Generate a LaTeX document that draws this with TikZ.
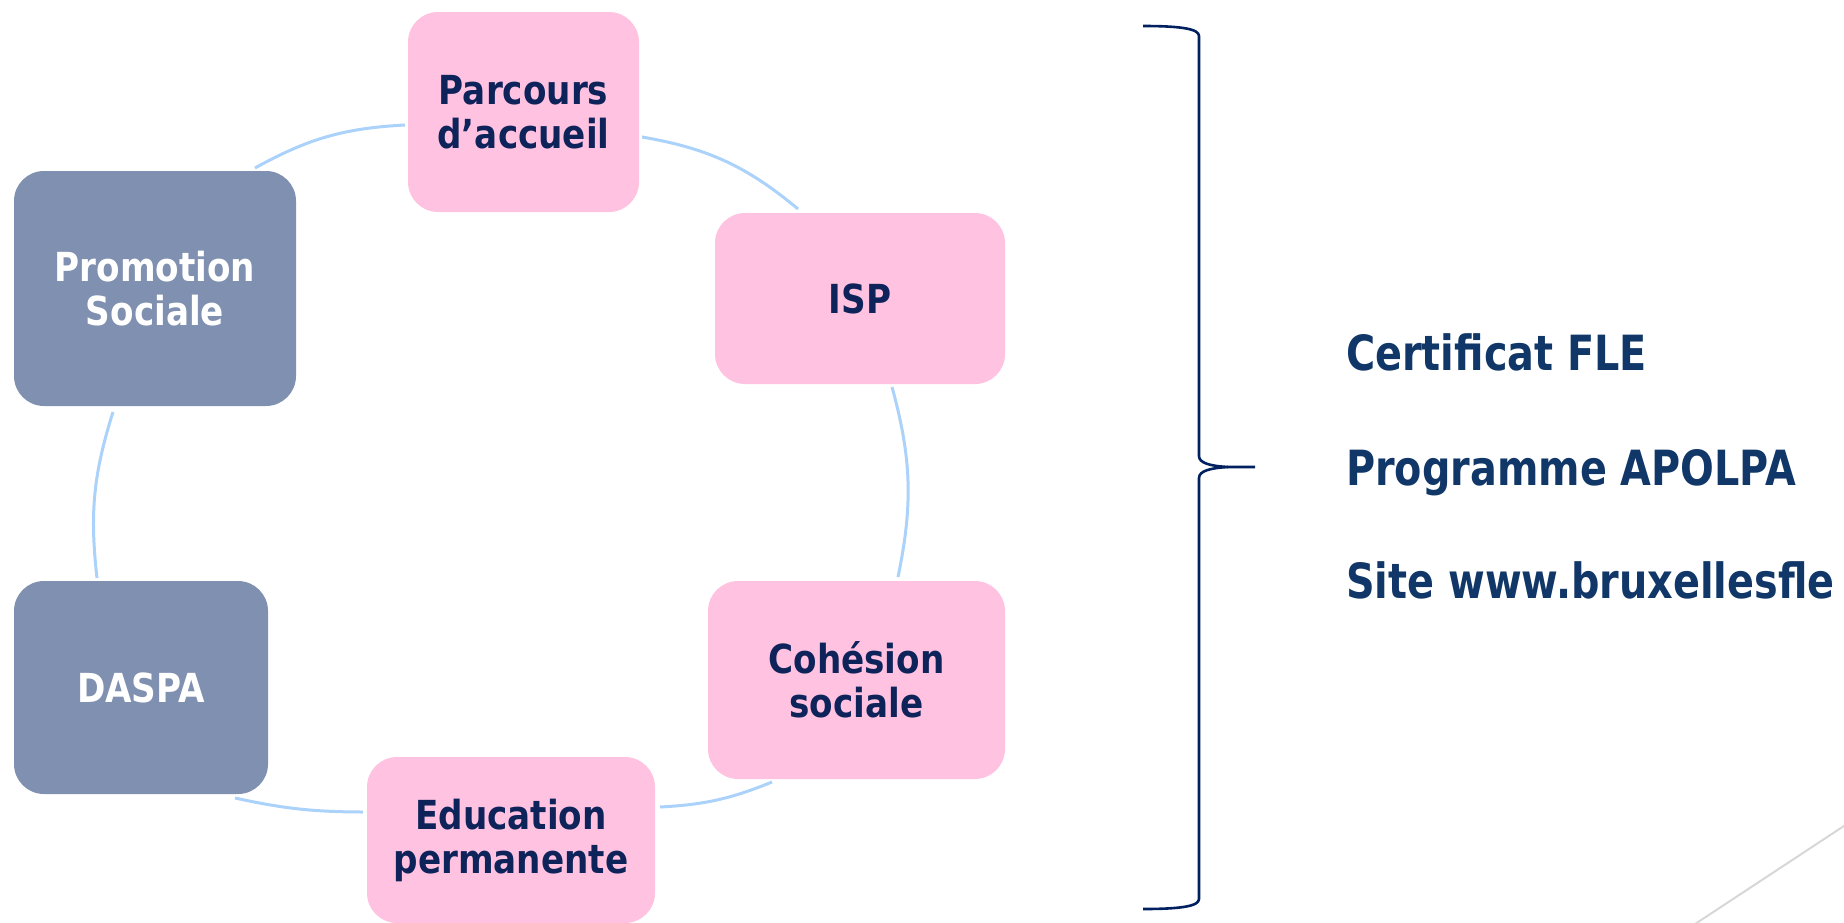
\documentclass[tikz,border=0pt]{standalone}
\usepackage{fontspec}
\newfontfamily\tah[FakeStretch=0.855]{DejaVu Sans}
\newfontfamily\tahr[FakeStretch=0.82]{DejaVu Sans}
\definecolor{pinkbox}{RGB}{255,195,225}
\definecolor{graybox}{RGB}{128,144,176}
\definecolor{boxtext}{RGB}{13,35,90}
\definecolor{righttext}{RGB}{16,55,104}
\definecolor{bracecol}{RGB}{0,32,96}
\definecolor{arccol}{RGB}{170,210,250}
\definecolor{diagcol}{RGB}{215,215,215}
\begin{document}
\begin{tikzpicture}[x=1pt,y=-1pt,
  box/.style={rounded corners=30pt, inner sep=0pt, align=center,
    font=\tah\bfseries\fontsize{40}{44}\selectfont},
  pinkstyle/.style={box, fill=pinkbox, text=boxtext},
  graystyle/.style={box, fill=graybox, text=white},
  arcline/.style={draw=arccol, line width=3pt},
  rtext/.style={anchor=base west, inner sep=0pt, text=righttext,
    font=\tahr\bfseries\fontsize{48.5}{56}\selectfont},
  bracestyle/.style={draw=bracecol, line width=2.6pt, line join=round},
  diagline/.style={draw=diagcol, line width=2pt}]
\useasboundingbox (0,0) rectangle (1844,922);
\clip (0,0) rectangle (1844,922);

% boxes
\node[pinkstyle, minimum width=231pt, minimum height=200pt] (parc) at (523.5,112) {Parcours\\d’accueil};
\node[pinkstyle, minimum width=290pt, minimum height=171pt] (isp) at (860,298.5) {ISP};
\node[graystyle, minimum width=282pt, minimum height=235pt] (prom) at (155,288.5) {Promotion\\Sociale};
\node[graystyle, minimum width=254pt, minimum height=213pt] (daspa) at (141,687.5) {DASPA};
\node[pinkstyle, minimum width=297pt, minimum height=198pt] (coh) at (856.5,680) {Cohésion\\sociale};
\node[pinkstyle, minimum width=288pt, minimum height=166pt] (edu) at (511,840) {Education\\permanente};

% arc end points
\coordinate (a1s) at (255,168);
\coordinate (a1e) at (405,125);
\coordinate (a2s) at (642,137);
\coordinate (a2e) at (798,209);
\coordinate (a3s) at (892,387);
\coordinate (a3e) at (898,577);
\coordinate (a4s) at (660,807);
\coordinate (a4e) at (772,782);
\coordinate (a5s) at (235,798);
\coordinate (a5e) at (363,812);
\coordinate (a6s) at (97,578);
\coordinate (a6e) at (113,412);

\draw[arcline] (a1s) to[bend left=13] (a1e);
\draw[arcline] (a2s) to[bend left=15] (a2e);
\draw[arcline] (a3s) to[bend left=13.5] (a3e);
\draw[arcline] (a4e) to[bend left=9.5] (a4s);
\draw[arcline] (a5e) to[bend left=6] (a5s);
\draw[arcline] (a6s) to[bend left=12] (a6e);

% brace
\draw[bracestyle] (1143,26) .. controls (1182,26) and (1199,29) .. (1199,36)
  -- (1199,456) .. controls (1199,463) and (1210,466) .. (1228,467) -- (1255,467);
\draw[bracestyle] (1228,467) .. controls (1210,468) and (1199,471) .. (1199,478)
  -- (1199,899) .. controls (1199,906) and (1182,909) .. (1143,909);

% right texts
\node[rtext] (t1) at (1346,370) {Certificat FLE};
\node[rtext] (t2) at (1346,485) {Programme APOLPA};
\node[rtext] (t3) at (1346,598) {Site www.bruxellesfle};

% decorative diagonal
\draw[diagline] (1692,926) -- (1850,822);
\end{tikzpicture}
\end{document}
